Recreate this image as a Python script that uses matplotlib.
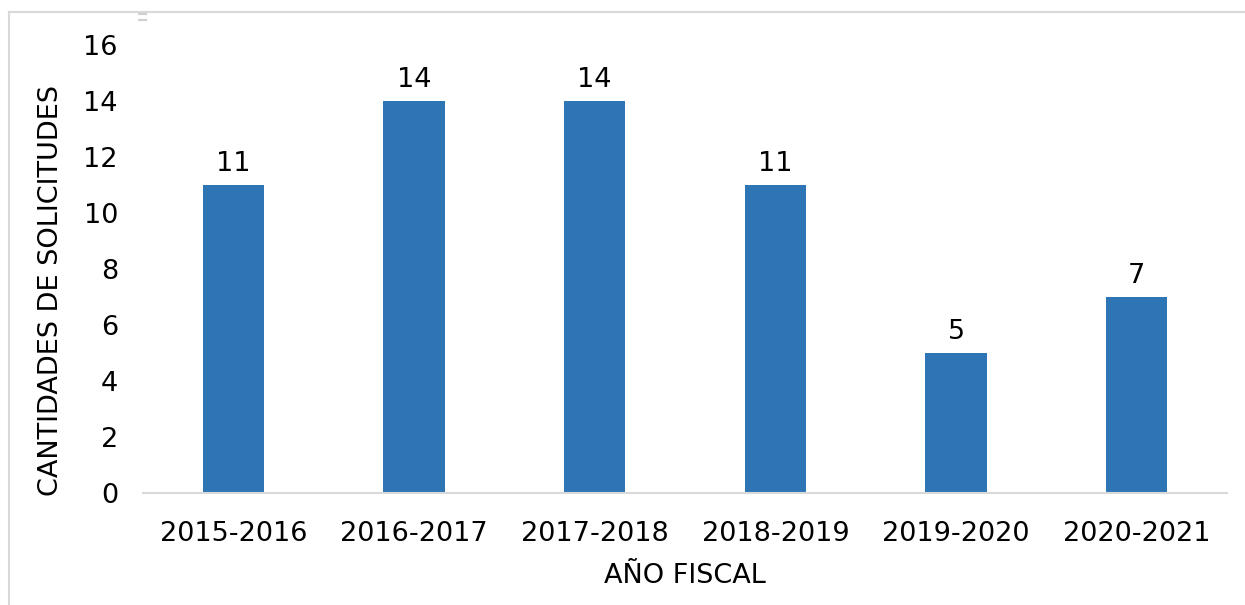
import matplotlib
matplotlib.use("Agg")
import matplotlib.pyplot as plt
from matplotlib.lines import Line2D

categories = ["2015-2016", "2016-2017", "2017-2018", "2018-2019", "2019-2020", "2020-2021"]
values = [11, 14, 14, 11, 5, 7]
yticks = [0, 2, 4, 6, 8, 10, 12, 14, 16]

plt.rcParams['font.family'] = ['DejaVu Sans']
W, H = 1245, 605
fig = plt.figure(figsize=(W / 100, H / 100), dpi=100)
ax = fig.add_axes([143 / W, 1 - 493 / H, (1227 - 143) / W, (493 - 45) / H])

FS = 19.5
x = range(len(categories))
bars = ax.bar(x, values, width=0.34, color="#2E75B6", zorder=2)
for xi, v in zip(x, values):
    ax.text(xi, v + 0.3, str(v), ha="center", va="bottom", fontsize=FS, color="black")

ax.set_xlim(-0.5, len(categories) - 0.5)
ax.set_ylim(0, 16)
ax.set_yticks(yticks)
ax.set_xticks(list(x))
ax.set_xticklabels(categories)
ax.tick_params(axis="both", length=0, labelsize=FS, colors="black")
ax.tick_params(axis="x", pad=20)
ax.tick_params(axis="y", pad=18)
for s in ["top", "right", "left"]:
    ax.spines[s].set_visible(False)
ax.spines["bottom"].set_color("#D9D9D9")
ax.spines["bottom"].set_linewidth(1.5)
ax.set_xlabel("AÑO FISCAL", fontsize=FS, labelpad=12)
ax.set_ylabel("CANTIDADES DE SOLICITUDES", fontsize=FS)
ax.yaxis.set_label_coords(-0.073, 0.453)

# outer border (left and top only, cropped)
fig.add_artist(Line2D([8.5 / W, 8.5 / W], [0, 1 - 12 / H], transform=fig.transFigure, color="#D9D9D9", lw=1.5))
fig.add_artist(Line2D([8.5 / W, 1], [1 - 12 / H, 1 - 12 / H], transform=fig.transFigure, color="#D9D9D9", lw=1.5))
# small handle marks
fig.add_artist(Line2D([139 / W, 146 / W], [1 - 14 / H, 1 - 14 / H], transform=fig.transFigure, color="#D0D0D0", lw=1.5))
fig.add_artist(Line2D([139 / W, 146 / W], [1 - 20 / H, 1 - 20 / H], transform=fig.transFigure, color="#D0D0D0", lw=1.5))

fig.savefig("out.png", dpi=100)
